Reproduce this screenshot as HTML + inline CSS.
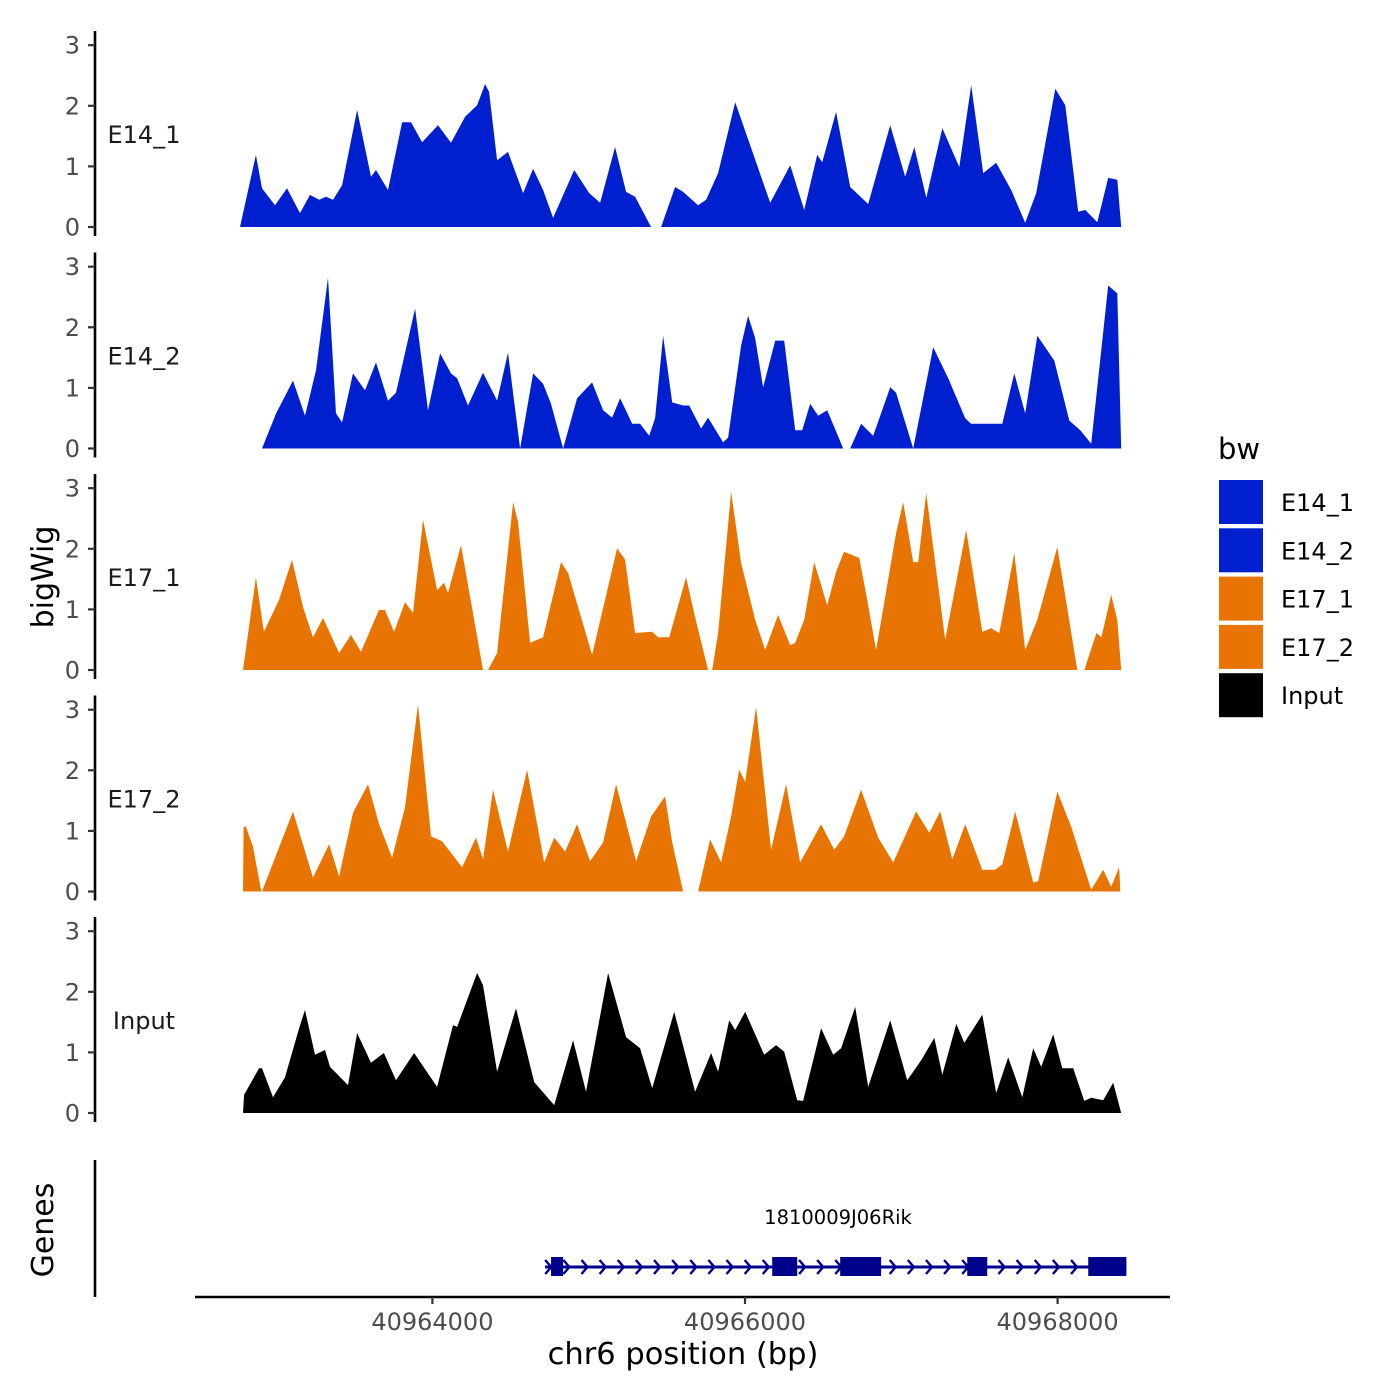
<!DOCTYPE html>
<html><head><meta charset="utf-8"><title>bigWig tracks</title>
<style>
html,body{margin:0;padding:0;background:#fff;}
svg{display:block;font-family:"DejaVu Sans","Liberation Sans",sans-serif;}
</style></head>
<body>
<svg id="chart" width="1400" height="1400" viewBox="0 0 1400 1400" xmlns="http://www.w3.org/2000/svg"></svg>
<script>
// ---- data (positions are bp offsets from regionStart; null = gap) ----
const regionStart = 40962000;
const trackNames = ["E14_1","E14_2","E17_1","E17_2","Input"];
const trackColors = ["#0020D0","#0020D0","#E87503","#E87503","#000000"];
const yTicks = [0,1,2,3];
const xTicks = [40964000,40966000,40968000];
const xTickLabels = ["40964000","40966000","40968000"];

const e14_1_pos = [769,871,910,993,1070,1153,1217,1275,1319,1364,1422,1518,1607,1639,1716,1806,1863,1934,2036,2119,2209,2286,2337,2363,2414,2484,2580,2644,2708,2772,2907,3003,3073,3169,3239,3297,3399,3430,3463,3553,3604,3700,3751,3828,3937,4161,4289,4379,4462,4494,4583,4673,4788,4929,5025,5083,5160,5262,5371,5447,5524,5607,5703,5793,5863,5985,6049,6132,6177,6254,6324,6382,6407];
const e14_1_val = [0,1.19,0.64,0.36,0.64,0.23,0.53,0.45,0.50,0.45,0.69,1.93,0.83,0.94,0.61,1.73,1.73,1.40,1.68,1.39,1.82,2.01,2.36,2.23,1.10,1.24,0.56,0.96,0.61,0.15,0.94,0.56,0.40,1.32,0.58,0.50,0,null,0,0.66,0.58,0.36,0.45,0.89,2.06,0.40,1.02,0.28,1.19,1.07,1.90,0.66,0.38,1.68,0.83,1.32,0.48,1.63,0.99,2.34,0.89,1.06,0.61,0.07,0.56,2.28,2.01,0.25,0.28,0.08,0.81,0.78,0];

const e14_2_pos = [910,1000,1108,1185,1255,1332,1383,1422,1492,1569,1639,1716,1767,1889,1972,2049,2119,2158,2228,2324,2414,2484,2561,2644,2708,2759,2836,2926,3022,3092,3150,3201,3278,3329,3387,3425,3476,3534,3604,3643,3719,3764,3860,3892,3975,4020,4065,4116,4193,4251,4321,4366,4417,4468,4526,4628,4650,4673,4743,4820,4929,4967,5076,5204,5300,5409,5447,5646,5723,5793,5870,5979,6075,6145,6215,6324,6382,6407];
const e14_2_val = [0,0.58,1.12,0.54,1.29,2.82,0.58,0.43,1.24,0.96,1.42,0.79,0.92,2.31,0.63,1.57,1.24,1.16,0.71,1.25,0.79,1.58,0,1.24,1.07,0.74,0,0.83,1.09,0.63,0.51,0.83,0.41,0.41,0.21,0.50,1.86,0.76,0.71,0.71,0.33,0.51,0.10,0.18,1.70,2.19,1.82,1.01,1.78,1.78,0.30,0.30,0.74,0.54,0.63,0,null,0,0.41,0.21,1.01,0.92,0,1.67,1.16,0.50,0.41,0.41,1.24,0.58,1.86,1.45,0.46,0.30,0.08,2.69,2.56,0];

const e17_1_pos = [788,871,922,1019,1102,1172,1236,1300,1403,1479,1543,1658,1697,1755,1825,1876,1940,2030,2075,2100,2183,2324,2340,2356,2414,2516,2548,2625,2708,2823,2868,3022,3182,3233,3297,3406,3444,3515,3623,3681,3764,3777,3790,3828,3911,3975,4065,4129,4212,4289,4321,4379,4443,4526,4583,4634,4731,4782,4839,4967,5012,5076,5108,5159,5281,5415,5518,5575,5627,5723,5793,5870,5998,6126,6150,6171,6248,6280,6343,6382,6407];
const e17_1_val = [0,1.53,0.63,1.16,1.82,1.04,0.54,0.86,0.28,0.58,0.30,0.99,0.99,0.63,1.12,0.94,2.48,1.32,1.44,1.27,2.06,0,null,0,0.28,2.77,2.44,0.45,0.54,1.78,1.60,0.25,2.01,1.82,0.61,0.63,0.54,0.54,1.53,0.87,0,null,0,0.61,2.94,1.77,0.83,0.33,0.91,0.41,0.45,0.83,1.78,1.07,1.62,1.95,1.85,1.16,0.33,2.26,2.77,1.78,1.78,2.92,0.50,2.31,0.63,0.69,0.61,1.93,0.33,0.83,2.03,0,null,0,0.61,0.54,1.24,0.83,0];

const e17_2_pos = [788,792,807,852,905,910,1108,1236,1339,1403,1492,1588,1659,1742,1825,1908,1991,2062,2190,2279,2324,2388,2484,2606,2715,2779,2849,2926,3009,3092,3175,3303,3399,3489,3534,3604,3650,3700,3777,3847,3911,3962,4001,4071,4167,4263,4353,4487,4571,4634,4743,4852,4948,5095,5179,5249,5326,5409,5518,5601,5646,5729,5844,5876,5998,6087,6215,6292,6343,6394,6401];
const e17_2_val = [0,1.07,1.07,0.74,0,0,1.32,0.23,0.78,0.25,1.30,1.77,1.11,0.56,1.39,3.09,0.91,0.83,0.40,0.89,0.53,1.68,0.66,2.01,0.48,0.89,0.66,1.11,0.50,0.81,1.77,0.50,1.24,1.57,0.81,0,null,0,0.86,0.48,1.24,2.01,1.81,3.05,0.69,1.77,0.48,1.11,0.69,0.91,1.68,0.89,0.48,1.32,0.97,1.32,0.53,1.11,0.36,0.36,0.45,1.32,0.15,0.17,1.65,1.07,0.03,0.36,0.08,0.40,0];

const input_pos = [788,795,891,910,980,1057,1147,1185,1249,1313,1345,1460,1518,1607,1690,1767,1883,2030,2132,2158,2286,2324,2414,2535,2651,2779,2900,2983,3124,3239,3329,3406,3547,3681,3783,3828,3899,3937,4001,4123,4199,4251,4334,4372,4487,4564,4615,4705,4788,4929,5038,5127,5211,5262,5352,5403,5518,5607,5684,5774,5844,5895,5972,6030,6100,6171,6215,6292,6356,6407];
const input_val = [0,0.30,0.74,0.74,0.26,0.59,1.40,1.70,0.96,1.04,0.76,0.46,1.32,0.83,0.99,0.54,0.99,0.43,1.45,1.42,2.31,2.11,0.68,1.73,0.51,0.13,1.20,0.35,2.31,1.25,1.07,0.41,1.67,0.35,0.99,0.68,1.53,1.37,1.67,0.96,1.12,1.01,0.21,0.20,1.40,0.96,1.07,1.75,0.43,1.53,0.54,0.87,1.24,0.63,1.47,1.16,1.62,0.33,0.92,0.26,1.07,0.76,1.30,0.74,0.74,0.20,0.25,0.21,0.50,0];

const trackPos = [e14_1_pos,e14_2_pos,e17_1_pos,e17_2_pos,input_pos];
const trackVal = [e14_1_val,e14_2_val,e17_1_val,e17_2_val,input_val];

const geneName = "1810009J06Rik";
const geneStart = 2721, geneEnd = 6440;
const exonStarts = [2759,4174,4609,5422,6196];
const exonEnds   = [2836,4334,4871,5550,6440];
</script>
<script>
const svg = document.getElementById('chart');
const NS = "http://www.w3.org/2000/svg";
function mk(tag, attrs, text){
  const e = document.createElementNS(NS, tag);
  for (const k in attrs) e.setAttribute(k, attrs[k]);
  if (text !== undefined) e.textContent = text;
  svg.appendChild(e);
  return e;
}
function xScale(off){ return 432.4 + (off + regionStart - 40964000) * 0.15630; }
function xScaleAbs(bp){ return 432.4 + (bp - 40964000) * 0.15630; }
const panelZero = [227, 448.5, 670, 891.5, 1113];
const pxPerUnit = 60.6;
function yScale(i, v){ return panelZero[i] - v * pxPerUnit; }

for (let i = 0; i < trackNames.length; i++){
  const y0 = panelZero[i];
  const ax = mk('line', {x1:95, x2:95, y1:y0-196, y2:y0+9, stroke:'#000', 'stroke-width':2.6});
  
  
  yTicks.forEach(t => {
    const y = yScale(i, t);
    const tk = mk('line', {x1:88, x2:95, y1:y, y2:y, stroke:'#333', 'stroke-width':2.2});
    
    
    const tl = mk('text', {x:80, y:y+8.5, 'text-anchor':'end', 'font-size':24, fill:'#4d4d4d'}, String(t));
    
    
  });
  const lab = mk('text', {x:144, y:y0-84, 'text-anchor':'middle', 'font-size':24, fill:'#1a1a1a'}, trackNames[i]);
  
  

  const pos = trackPos[i], val = trackVal[i];
  let seg = [];
  const segs = [];
  for (let j = 0; j < pos.length; j++){
    if (val[j] === null){ if (seg.length) segs.push(seg); seg = []; }
    else seg.push([xScale(pos[j]), yScale(i, val[j])]);
  }
  if (seg.length) segs.push(seg);
  segs.forEach(s => {
    let d = 'M' + s[0][0].toFixed(1) + ',' + y0;
    s.forEach(p => { d += 'L' + p[0].toFixed(1) + ',' + p[1].toFixed(1); });
    d += 'L' + s[s.length-1][0].toFixed(1) + ',' + y0 + 'Z';
    const a = mk('path', {d:d, fill:trackColors[i], stroke:'none'});
    
    
  });
}

const yt = mk('text', {x:0, y:0, transform:'translate(53,577) rotate(-90)', 'text-anchor':'middle', 'font-size':30, fill:'#000'}, 'bigWig');



const gax = mk('line', {x1:95, x2:95, y1:1160, y2:1297, stroke:'#000', 'stroke-width':2.6});


const gt = mk('text', {x:0, y:0, transform:'translate(53,1230) rotate(-90)', 'text-anchor':'middle', 'font-size':30, fill:'#000'}, 'Genes');



const gy = 1267;
const gl = mk('line', {x1:xScale(geneStart), x2:xScale(geneEnd), y1:gy, y2:gy, stroke:'#00008B', 'stroke-width':3});


for (let off = geneStart + 20; off < geneEnd - 20; off += 116){
  let inExon = false;
  for (let k = 0; k < exonStarts.length; k++) if (off > exonStarts[k] - 10 && off < exonEnds[k] + 10) inExon = true;
  if (inExon && off > geneStart + 40) continue;
  const cx = xScale(off);
  const ch = mk('path', {d:`M${cx-3},${gy-7}L${cx+3},${gy}L${cx-3},${gy+7}`, fill:'none', stroke:'#00008B', 'stroke-width':2.4});
  
  
}
for (let k = 0; k < exonStarts.length; k++){
  const x1 = xScale(exonStarts[k]), x2 = xScale(exonEnds[k]);
  const ex = mk('rect', {x:x1, y:gy-10, width:x2-x1, height:19, fill:'#00008B'});
  
  
}
const gn = mk('text', {x:838, y:1224, 'text-anchor':'middle', 'font-size':19.5, fill:'#000'}, geneName);



const xa = mk('line', {x1:195, x2:1170, y1:1297, y2:1297, stroke:'#000', 'stroke-width':2.6});


xTicks.forEach((t, k) => {
  const x = xScaleAbs(t);
  const tk = mk('line', {x1:x, x2:x, y1:1297, y2:1304, stroke:'#333', 'stroke-width':2.2});
  
  
  const tl = mk('text', {x:x, y:1330, 'text-anchor':'middle', 'font-size':24, fill:'#4d4d4d'}, xTickLabels[k]);
  
  
});
const xt = mk('text', {x:683, y:1364, 'text-anchor':'middle', 'font-size':30.5, fill:'#000'}, 'chr6 position (bp)');



const lt = mk('text', {x:1218, y:459, 'font-size':29, fill:'#000'}, 'bw');


for (let i = 0; i < trackNames.length; i++){
  const top = 480 + i * 48.3;
  const r = mk('rect', {x:1219, y:top, width:44, height:44, fill:trackColors[i]});
  
  
  const t = mk('text', {x:1281, y:top+31, 'font-size':24, fill:'#000'}, trackNames[i]);
  
  
}
</script>
</body></html>
